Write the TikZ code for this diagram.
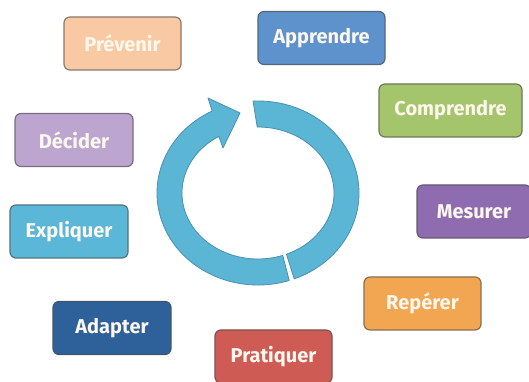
\documentclass[tikz,border=0pt]{standalone}
\usepackage{fontspec}
\setmainfont{Fira Sans}
\definecolor{cPrev}{HTML}{F8C9A2}
\definecolor{cAppr}{HTML}{5D92CC}
\definecolor{cComp}{HTML}{A4C56B}
\definecolor{cMesu}{HTML}{8E6CAF}
\definecolor{cRepe}{HTML}{F2A651}
\definecolor{cPrat}{HTML}{CE5C55}
\definecolor{cAdap}{HTML}{2E6099}
\definecolor{cExpl}{HTML}{5BB7D7}
\definecolor{cDeci}{HTML}{BCA6D0}
\definecolor{txt}{HTML}{FDF7EE}
\definecolor{ringfill}{HTML}{5BB5D5}
\definecolor{ringedge}{HTML}{4A90B2}
\definecolor{edgegray}{HTML}{505050}
\begin{document}
\begin{tikzpicture}[x=1pt,y=1pt,
  lbl/.style={draw=#1!35!edgegray, fill=#1, rounded corners=6pt, line width=1.2pt,
    minimum height=53pt, inner sep=0pt, text=txt,
    font=\bfseries\fontsize{20}{22}\selectfont},
  ring/.style={fill=ringfill, draw=ringedge, line width=0.8pt, line join=round}]
\useasboundingbox (0,0) rectangle (529,382);
\fill[white] (0,0) rectangle (529,382);

\node[lbl=cPrev, minimum width=117pt] (prevenir) at (122.5,338.5) {Prévenir};
\node[lbl=cAppr, minimum width=127pt] (apprendre) at (321.5,344) {Apprendre};
\node[lbl=cComp, minimum width=143pt] (comprendre) at (450.5,271.5) {Comprendre};
\node[lbl=cMesu, minimum width=114pt] (mesurer) at (474,170.5) {Mesurer};
\node[lbl=cRepe, minimum width=117pt] (reperer) at (422.5,78.5) {Repérer};
\node[lbl=cPrat, minimum width=117pt] (pratiquer) at (273.5,25.5) {Pratiquer};
\node[lbl=cAdap, minimum width=118pt] (adapter) at (112,54) {Adapter};
\node[lbl=cExpl, minimum width=118pt] (expliquer) at (69,150.5) {Expliquer};
\node[lbl=cDeci, minimum width=118pt] (decider) at (74,242) {Décider};

\coordinate (c) at (258,189);
\coordinate (wingA) at (208,284);
\coordinate (tip) at (240,269);
\coordinate (wingB) at (223,234);

% right piece
\filldraw[ring] ([shift={(92.8:101 and 92)}]c)
  arc[start angle=92.8, end angle=-69, x radius=101, y radius=92]
  -- ([shift={(-68:76 and 66)}]c)
  arc[start angle=-68, end angle=90.6, x radius=76, y radius=66] -- cycle;

% left piece with arrowhead
\filldraw[ring] ([shift={(-72:101 and 92)}]c)
  arc[start angle=-72, end angle=-243, x radius=101, y radius=92]
  -- (wingA) -- (tip) -- (wingB)
  -- ([shift={(-239:76 and 66)}]c)
  arc[start angle=-239, end angle=-71, x radius=76, y radius=66] -- cycle;
\end{tikzpicture}
\end{document}
